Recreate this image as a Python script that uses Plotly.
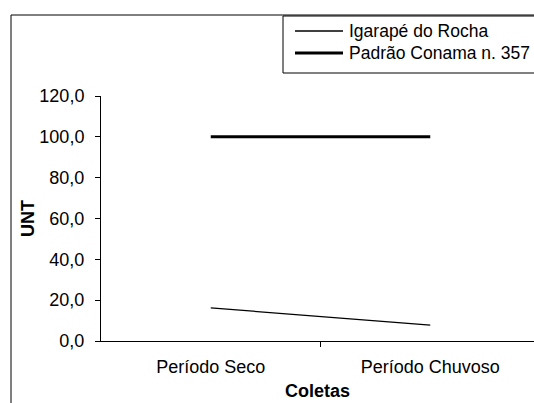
import plotly.graph_objects as go

categories = ["Período Seco", "Período Chuvoso"]
series_names = ["Igarapé do Rocha", "Padrão Conama n. 357"]
igarape = [16.2, 7.8]
conama = [100.0, 100.0]
y_ticks = [0, 20, 40, 60, 80, 100, 120]

x_pos = list(range(len(categories)))

W, H = 534, 403
L, R, T, B = 101, 0, 96, 403 - 341
pw = W - L - R
ph = H - T - B

def px_x(p):
    return (p - L) / pw

def px_y(p):
    return (H - B - p) / ph

FONT = "Liberation Sans, Arial, sans-serif"
FS = 18
LEG_FS = 17.5
widths = [1.3, 3]

fig = go.Figure()
for name, vals, w in zip(series_names, [igarape, conama], widths):
    fig.add_trace(go.Scatter(x=x_pos, y=vals, mode="lines", name=name,
                             line=dict(color="black", width=w), showlegend=False))

fig.update_layout(
    width=W, height=H,
    margin=dict(l=L, r=R, t=T, b=B, pad=0, autoexpand=False),
    paper_bgcolor="white", plot_bgcolor="white",
    separators=",.",
    font=dict(family=FONT, size=FS, color="black"),
    showlegend=False,
    xaxis=dict(range=[-0.5, -0.5 + 2 * pw / 439], tickvals=x_pos, ticktext=categories,
               showline=True, linecolor="black", linewidth=1, ticks="",
               showgrid=False, zeroline=False, fixedrange=True, automargin=False,
               ticklabelstandoff=9,
               minor=dict(tickvals=[0.5], ticks="outside", ticklen=5, tickcolor="black", showgrid=False),
               title=dict(text="<b>Coletas</b>", font=dict(size=FS), standoff=8)),
    yaxis=dict(range=[0, 120], tickvals=y_ticks, tickformat=".1f", automargin=False,
               showline=True, linecolor="black", linewidth=1, ticks="outside", ticklen=5,
               tickcolor="black", showgrid=False, zeroline=False, ticklabelstandoff=7,
               fixedrange=True,
               title=dict(text="<b>UNT</b>", font=dict(size=FS), standoff=0)),
)

# outer chart border (extends beyond the visible window on right and bottom)
fig.add_shape(type="rect", xref="paper", yref="paper",
              x0=px_x(11), x1=px_x(560), y0=px_y(430), y1=px_y(15),
              line=dict(color="black", width=1), fillcolor="rgba(0,0,0,0)", layer="above")

# legend box
fig.add_shape(type="rect", xref="paper", yref="paper",
              x0=px_x(283), x1=px_x(560), y0=px_y(73), y1=px_y(16),
              line=dict(color="black", width=1), fillcolor="white", layer="above")
row_y = [31, 53]
for name, w, ry in zip(series_names, widths, row_y):
    fig.add_shape(type="line", xref="paper", yref="paper",
                  x0=px_x(295), x1=px_x(343), y0=px_y(ry), y1=px_y(ry),
                  line=dict(color="black", width=w), layer="above")
    fig.add_annotation(text=name, xref="paper", yref="paper", x=px_x(347), y=px_y(ry),
                       xanchor="left", yanchor="middle", showarrow=False,
                       font=dict(family=FONT, size=LEG_FS, color="black"))

fig.write_html("out.html", config={"displayModeBar": False},
               post_script="document.body.style.margin='0';document.body.style.overflow='hidden';")
